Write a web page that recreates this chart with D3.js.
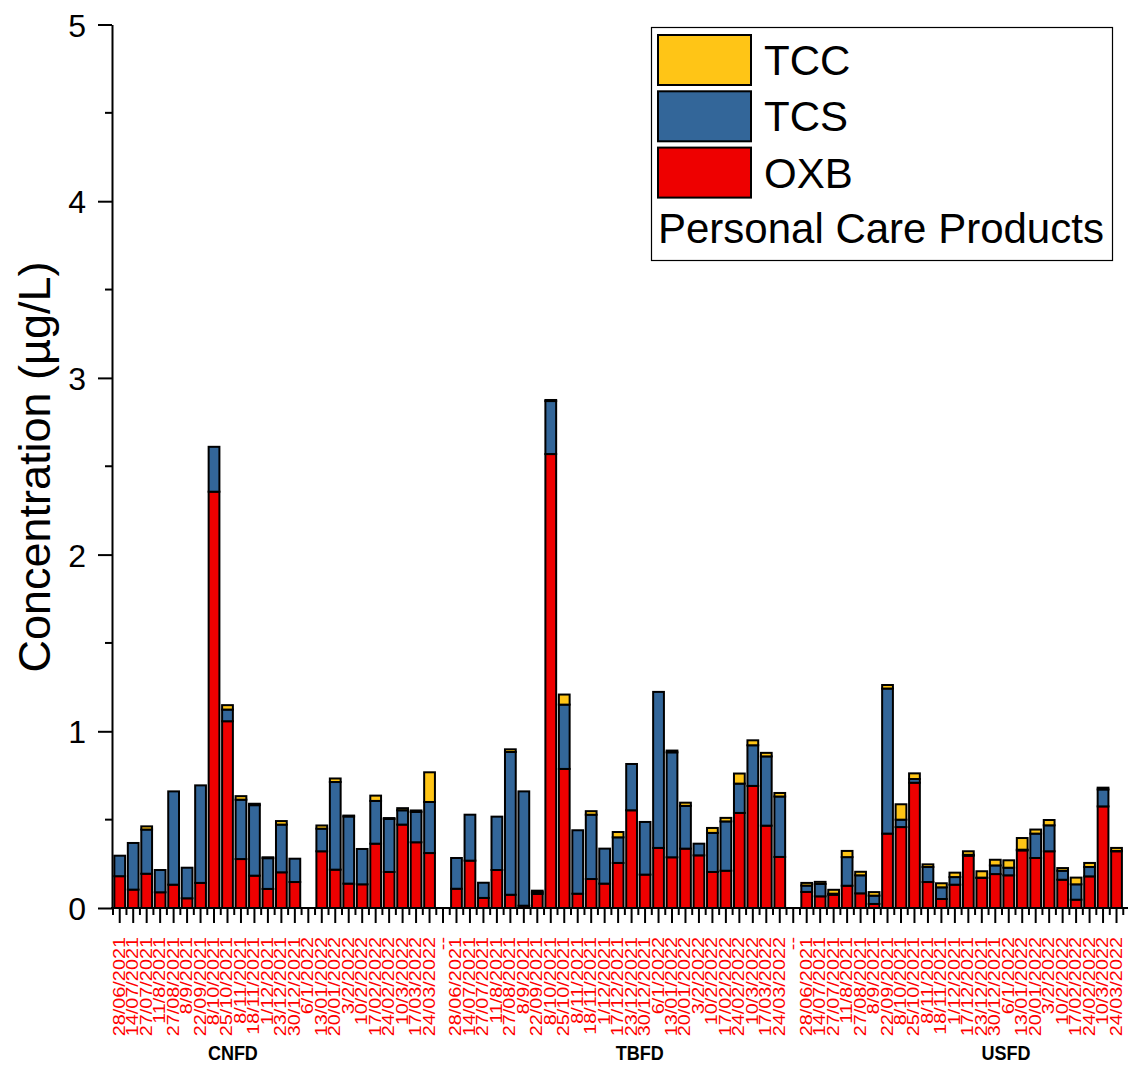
<!DOCTYPE html>
<html>
<head>
<meta charset="utf-8">
<script src="https://cdn.jsdelivr.net/npm/d3@7"></script>
<style>
body { margin: 0; background: #fff; }
svg { display: block; font-family: Arial, "Liberation Sans", sans-serif; }
</style>
</head>
<body>
<svg></svg>
<script>
// data

var groups = ["CNFD", "TBFD", "USFD"];

var cnfdDates = ["28/06/2021","14/07/2021","27/07/2021","11/8/2021","27/08/2021","8/9/2021","22/09/2021","8/10/2021","25/10/2021","8/11/2021","18/11/2021","1/12/2021","23/12/2021","30/12/2021","6/1/2022","13/01/2022","20/01/2022","3/2/2022","10/2/2022","17/02/2022","24/02/2022","10/3/2022","17/03/2022","24/03/2022"];
var tbfdDates = ["28/06/2021","14/07/2021","27/07/2021","11/8/2021","27/08/2021","8/9/2021","22/09/2021","8/10/2021","25/10/2021","8/11/2021","18/11/2021","1/12/2021","17/12/2021","23/12/2021","30/12/2021","6/1/2022","13/01/2022","20/01/2022","3/2/2022","10/2/2022","17/02/2022","24/02/2022","10/3/2022","17/03/2022","24/03/2022"];
var usfdDates = ["28/06/2021","14/07/2021","27/07/2021","11/8/2021","27/08/2021","8/9/2021","22/09/2021","8/10/2021","25/10/2021","8/11/2021","18/11/2021","1/12/2021","17/12/2021","23/12/2021","30/12/2021","6/1/2022","13/01/2022","20/01/2022","3/2/2022","10/2/2022","17/02/2022","24/02/2022","10/3/2022","24/03/2022"];

var cnfdOXB = [0.18,0.104,0.194,0.089,0.132,0.055,0.142,2.356,1.057,0.277,0.183,0.108,0.202,0.147,0,0.321,0.217,0.138,0.134,0.364,0.204,0.472,0.372,0.311];
var cnfdTCS = [0.116,0.264,0.25,0.126,0.528,0.173,0.552,0.254,0.066,0.336,0.399,0.174,0.27,0.132,0,0.128,0.496,0.38,0.2,0.242,0.3,0.081,0.172,0.289];
var cnfdTCC = [0,0,0.018,0,0,0,0,0,0.025,0.02,0.008,0.005,0.02,0,0,0.018,0.02,0.005,0,0.03,0.005,0.012,0.008,0.168];

var tbfdOXB = [0.109,0.268,0.057,0.215,0.075,0.013,0.08,2.569,0.787,0.081,0.164,0.138,0.255,0.553,0.189,0.34,0.287,0.336,0.298,0.204,0.211,0.538,0.691,0.466,0.289];
var tbfdTCS = [0.174,0.26,0.086,0.302,0.808,0.647,0.01,0.3,0.364,0.359,0.364,0.198,0.145,0.262,0.298,0.883,0.594,0.242,0.066,0.221,0.279,0.166,0.23,0.392,0.342];
var tbfdTCC = [0,0,0,0,0.015,0,0.008,0.006,0.057,0,0.02,0,0.03,0,0,0,0.01,0.018,0,0.028,0.02,0.057,0.028,0.02,0.02];

var usfdOXB = [0.091,0.066,0.075,0.126,0.083,0.023,0.421,0.458,0.709,0.147,0.051,0.132,0.296,0.17,0.192,0.185,0.326,0.283,0.321,0.16,0.047,0.179,0.575,0.321];
var usfdTCS = [0.036,0.07,0.006,0.162,0.102,0.047,0.821,0.042,0.021,0.085,0.066,0.043,0.005,0.002,0.049,0.043,0.004,0.138,0.147,0.051,0.087,0.053,0.096,0.002];
var usfdTCC = [0.015,0.012,0.022,0.035,0.02,0.02,0.02,0.087,0.032,0.015,0.023,0.025,0.02,0.036,0.032,0.042,0.066,0.023,0.03,0.015,0.038,0.023,0.01,0.017];

var yTicks = [0, 1, 2, 3, 4, 5];
var yMinorTicks = [0.5, 1.5, 2.5, 3.5, 4.5];
var seriesKeys = ["OXB", "TCS", "TCC"];
var legendKeys = ["TCC", "TCS", "OXB"];
var legendTitle = "Personal Care Products";
var separatorLabel = "--";

var colors = { TCC: "#ffc516", TCS: "#336699", OXB: "#ee0000" };

var width = 1128;
var height = 1066;

// build rows
var rows = [];
var groupDates = { CNFD: cnfdDates, TBFD: tbfdDates, USFD: usfdDates };
var groupVals = {
	CNFD: { OXB: cnfdOXB, TCS: cnfdTCS, TCC: cnfdTCC },
	TBFD: { OXB: tbfdOXB, TCS: tbfdTCS, TCC: tbfdTCC },
	USFD: { OXB: usfdOXB, TCS: usfdTCS, TCC: usfdTCC }
};
groups.forEach(function(g, gi){
	if (gi > 0) rows.push({ key: "sep" + gi, label: separatorLabel, group: null, OXB: 0, TCS: 0, TCC: 0 });
	groupDates[g].forEach(function(d, i){
		rows.push({
			key: g + "|" + d,
			label: d,
			group: g,
			OXB: groupVals[g].OXB[i],
			TCS: groupVals[g].TCS[i],
			TCC: groupVals[g].TCC[i]
		});
	});
});

var step = 13.47;
var xScale = d3.scaleBand()
	.domain(rows.map(d => d.key))
	.range([113, 113 + rows.length * step])
	.paddingInner(0.2)
	.paddingOuter(0.1);

var yScale = d3.scaleLinear()
	.domain([0, 5])
	.range([908, 24.5]);

var svg = d3.select("svg")
	.attr("width", width)
	.attr("height", height);

var stack = d3.stack().keys(seriesKeys);
var series = stack(rows);

svg.append("g")
	.selectAll("g")
	.data(series)
	.enter()
	.append("g")
	.attr("fill", d => colors[d.key])
	.selectAll("rect")
	.data(d => d.filter(s => s[1] - s[0] > 0))
	.enter()
	.append("rect")
	.attr("x", d => xScale(d.data.key))
	.attr("y", d => yScale(d[1]))
	.attr("width", xScale.bandwidth())
	.attr("height", d => yScale(d[0]) - yScale(d[1]))
	.attr("stroke", "#000")
	.attr("stroke-width", 2);

// y axis
var yAxis = d3.axisLeft(yScale)
	.tickValues(yTicks)
	.tickFormat(d3.format("d"))
	.tickSize(14)
	.tickSizeOuter(0)
	.tickPadding(12);

var gy = svg.append("g")
	.attr("transform", "translate(112,0)")
	.call(yAxis);
gy.select(".domain").attr("stroke-width", 2);
gy.selectAll(".tick line").attr("stroke-width", 2);
gy.selectAll(".tick text")
	.attr("font-size", 32)
	.attr("font-family", "Arial, 'Liberation Sans', sans-serif")
	.attr("dy", "0.36em")
	.attr("fill", "#000");

gy.selectAll(".minor")
	.data(yMinorTicks)
	.enter()
	.append("line")
	.attr("class", "minor")
	.attr("x1", -7)
	.attr("x2", 0)
	.attr("y1", d => yScale(d))
	.attr("y2", d => yScale(d))
	.attr("stroke", "#000")
	.attr("stroke-width", 2);

svg.append("text")
	.attr("transform", "translate(50,467) rotate(-90)")
	.attr("text-anchor", "middle")
	.attr("font-size", 45)
	.text("Concentration (\u00b5g/L)");

// x axis
var gx = svg.append("g");
gx.append("line")
	.attr("x1", 111)
	.attr("x2", width)
	.attr("y1", 908)
	.attr("y2", 908)
	.attr("stroke", "#000")
	.attr("stroke-width", 2);

var half = xScale.bandwidth() / 2;
var gap = xScale.step() * xScale.paddingInner() / 2;

gx.selectAll(".major")
	.data(rows)
	.enter()
	.append("line")
	.attr("x1", d => xScale(d.key) + half)
	.attr("x2", d => xScale(d.key) + half)
	.attr("y1", 908)
	.attr("y2", 923)
	.attr("stroke", "#000")
	.attr("stroke-width", 2);

var bounds = rows.map(d => xScale(d.key) - gap);
bounds.push(xScale(rows[rows.length - 1].key) + xScale.bandwidth() + gap);
gx.selectAll(".minor")
	.data(bounds)
	.enter()
	.append("line")
	.attr("x1", d => d)
	.attr("x2", d => d)
	.attr("y1", 908)
	.attr("y2", 915)
	.attr("stroke", "#000")
	.attr("stroke-width", 2);

gx.selectAll(".lab")
	.data(rows)
	.enter()
	.append("text")
	.attr("transform", d => "translate(" + (xScale(d.key) + half + 5) + ",937) rotate(-90) scale(1.24,1)")
	.attr("text-anchor", "end")
	.attr("font-size", 16)
	.attr("fill", "#ff0000")
	.text(d => d.label);

// group names under the dates
var groupLabelIdx = { CNFD: 8.4, TBFD: 13.6, USFD: 14.8 };
groups.forEach(function(g){
	var first = xScale(g + "|" + groupDates[g][0]) + half;
	svg.append("text")
		.attr("transform", "translate(" + (first + groupLabelIdx[g] * xScale.step()) + ",1060) scale(1,1.16)")
		.attr("text-anchor", "middle")
		.attr("font-size", 18)
		.attr("font-weight", "bold")
		.text(g);
});

// legend
var legend = svg.append("g");
legend.append("rect")
	.attr("x", 651.5)
	.attr("y", 27.5)
	.attr("width", 461)
	.attr("height", 233)
	.attr("fill", "#fff")
	.attr("stroke", "#000")
	.attr("stroke-width", 1.2);

var li = legend.selectAll(".item")
	.data(legendKeys)
	.enter()
	.append("g")
	.attr("transform", (d, i) => "translate(0," + (i * 56.3) + ")");

li.append("rect")
	.attr("x", 658)
	.attr("y", 35)
	.attr("width", 93)
	.attr("height", 50)
	.attr("fill", d => colors[d])
	.attr("stroke", "#000")
	.attr("stroke-width", 2);

li.append("text")
	.attr("x", 764)
	.attr("y", 75)
	.attr("font-size", 42)
	.text(d => d);

legend.append("text")
	.attr("x", 658)
	.attr("y", 243)
	.attr("font-size", 42)
	.text(legendTitle);
</script>
</body>
</html>
